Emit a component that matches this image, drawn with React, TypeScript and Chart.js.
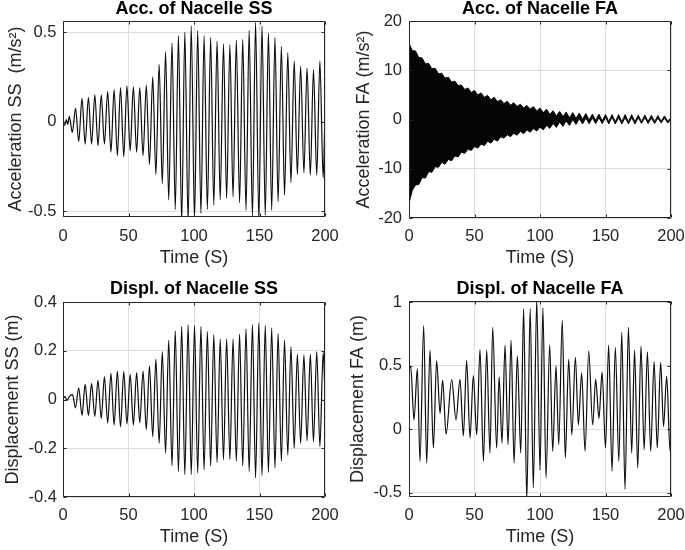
import React, { useEffect, useRef } from 'react';
import { Chart, registerables } from 'chart.js';

Chart.register(...registerables);

const FONT = '"Liberation Sans", Arial, Helvetica, sans-serif';
const TEXT = '#262626';
const GRID = '#dedede';

// ---------- shared ticks ----------
const timeTicks = [0, 50, 100, 150, 200];
const accSsTicks = [-0.5, 0, 0.5];
const accFaTicks = [-20, -10, 0, 10, 20];
const dispSsTicks = [-0.4, -0.2, 0, 0.2, 0.4];
const dispFaTicks = [-0.5, 0, 0.5, 1];

// ---------- Acc. of Nacelle SS (extrema) ----------
const accSsTime = [
  0, 1.3, 2.5, 3.6, 4.8, 7.1, 9.6,
  12.0, 14.5, 16.9, 19.4, 21.8, 24.3, 26.7, 29.2, 31.6, 34.1, 36.6, 39.0, 41.5, 43.9,
  46.4, 48.8, 51.3, 53.7, 56.2, 58.6, 61.1, 63.6, 66.0, 68.5, 70.9, 73.4, 75.8, 78.3,
  80.7, 83.2, 85.7, 88.1, 90.6, 93.0, 95.5, 97.9, 100.4, 102.8, 105.3, 107.7, 110.2, 112.7,
  115.1, 117.6, 120.0, 122.5, 124.9, 127.4, 129.8, 132.3, 134.8, 137.2, 139.7, 142.1,
  144.6, 147.0, 149.5, 151.9, 154.4, 156.8, 159.3, 161.8, 164.2, 166.7, 169.1, 171.6,
  174.0, 176.5, 178.9, 181.4, 183.9, 186.3, 188.8, 191.2, 193.7, 196.1, 198.6, 200,
];
const accSsValue = [
  0, -0.02, 0.012, -0.015, 0.03, -0.06, 0.075,
  -0.11, 0.13, -0.125, 0.135, -0.125, 0.15, -0.135, 0.15, -0.125, 0.17, -0.17, 0.18, -0.19, 0.19,
  -0.195, 0.2, -0.163, 0.195, -0.17, 0.19, -0.19, 0.205, -0.24, 0.25, -0.295, 0.32, -0.347, 0.39,
  -0.437, 0.44, -0.49, 0.48, -0.56, 0.5, -0.56, 0.535, -0.55, 0.51, -0.513, 0.48, -0.49, 0.47,
  -0.466, 0.45, -0.437, 0.435, -0.428, 0.43, -0.42, 0.455, -0.453, 0.46, -0.494, 0.51,
  -0.53, 0.555, -0.55, 0.535, -0.523, 0.495, -0.494, 0.47, -0.447, 0.42, -0.41, 0.385,
  -0.34, 0.34, -0.295, 0.31, -0.286, 0.3, -0.3, 0.29, -0.298, 0.34, -0.314, 0.06,
];

// ---------- Acc. of Nacelle FA (outer edges of the dense band) ----------
const accFaTime = [
  0, 2.5, 5, 7.5, 10, 12.5, 15, 17.5, 20, 22.5, 25, 27.5, 30, 32.5, 35, 37.5, 40, 42.5, 45, 47.5,
  50, 52.5, 55, 57.5, 60, 62.5, 65, 67.5, 70, 72.5, 75, 77.5, 80, 82.5, 85, 87.5, 90, 92.5, 95, 97.5,
  100, 102.5, 105, 107.5, 110, 112.5, 115, 117.5, 120, 122.5, 125, 127.5, 130, 132.5, 135, 137.5,
  140, 142.5, 145, 147.5, 150, 152.5, 155, 157.5, 160, 162.5, 165, 167.5, 170, 172.5, 175, 177.5,
  180, 182.5, 185, 187.5, 190, 192.5, 195, 197.5, 200,
];
const accFaUpper = [
  15.5, 14.0, 13.9, 12.6, 12.5, 11.3, 11.4, 10.3, 10.4, 9.3, 9.4, 8.4, 8.6, 7.6, 7.8, 6.9, 7.0, 6.1, 6.4, 5.5,
  5.9, 5.0, 5.4, 4.5, 4.9, 4.0, 4.5, 3.65, 4.0, 3.25, 3.7, 2.9, 3.4, 2.65, 3.1, 2.35, 2.85, 2.15, 2.6, 1.75,
  2.35, 1.4, 2.1, 1.05, 1.8, 0.7, 1.65, 0.6, 1.5, 0.35, 1.4, 0.25, 1.3, 0.05, 1.2, -0.1,
  1.1, -0.2, 1.1, -0.3, 1.0, -0.45, 1.0, -0.5, 1.0, -0.5, 1.0, -0.5, 1.0, -0.5, 0.9, -0.5,
  0.9, -0.45, 0.85, -0.45, 0.8, -0.4, 0.75, -0.4, 0.4,
];
const accFaLower = [
  -17.0, -14.4, -13.3, -13.2, -11.8, -11.9, -10.6, -10.7, -9.6, -9.7, -8.7, -9.1, -8.1, -8.4, -7.4, -7.6, -6.6, -6.9, -6.0, -6.3,
  -5.5, -5.8, -5.0, -5.3, -4.4, -4.8, -4.0, -4.4, -3.5, -3.8, -3.1, -3.5, -2.8, -3.2, -2.4, -2.9, -2.1, -2.6, -1.85, -2.35,
  -1.55, -2.1, -1.2, -1.8, -0.8, -1.6, -0.5, -1.4, -0.3, -1.2, 0.0, -1.0, 0.15, -0.9, 0.3, -0.85,
  0.35, -0.85, 0.4, -0.85, 0.45, -0.9, 0.5, -0.9, 0.4, -0.9, 0.4, -0.9, 0.4, -0.9, 0.4, -0.8,
  0.4, -0.8, 0.3, -0.8, 0.3, -0.7, 0.3, -0.7, 0.0,
];

// ---------- Displ. of Nacelle SS ----------
const dispSsTime = [
  0, 1.5, 3.0, 4.8, 7.2, 9.5,
  12.0, 14.5, 16.9, 19.4, 21.8, 24.3, 26.7, 29.2, 31.6, 34.1, 36.6, 39.0, 41.5, 43.9,
  46.4, 48.8, 51.3, 53.7, 56.2, 58.6, 61.1, 63.6, 66.0, 68.5, 70.9, 73.4, 75.8, 78.3,
  80.7, 83.2, 85.7, 88.1, 90.6, 93.0, 95.5, 97.9, 100.4, 102.8, 105.3, 107.7, 110.2, 112.7,
  115.1, 117.6, 120.0, 122.5, 124.9, 127.4, 129.8, 132.3, 134.8, 137.2, 139.7, 142.1,
  144.6, 147.0, 149.5, 151.9, 154.4, 156.8, 159.3, 161.8, 164.2, 166.7, 169.1, 171.6,
  174.0, 176.5, 178.9, 181.4, 183.9, 186.3, 188.8, 191.2, 193.7, 196.1, 198.6, 200,
];
const dispSsValue = [
  0.005, 0.012, -0.004, 0.012, 0.02, -0.034,
  0.048, -0.065, 0.062, -0.065, 0.065, -0.069, 0.079, -0.078, 0.093, -0.096, 0.107, -0.105, 0.117, -0.112,
  0.114, -0.1, 0.103, -0.105, 0.11, -0.096, 0.117, -0.123, 0.138, -0.153, 0.166, -0.18, 0.197, -0.22,
  0.244, -0.272, 0.282, -0.295, 0.299, -0.308, 0.307, -0.308, 0.304, -0.301, 0.299, -0.288, 0.279, -0.272,
  0.266, -0.258, 0.248, -0.247, 0.248, -0.245, 0.248, -0.253, 0.268, -0.272, 0.289, -0.295,
  0.307, -0.321, 0.314, -0.312, 0.303, -0.299, 0.293, -0.281, 0.27, -0.253, 0.244, -0.227,
  0.217, -0.2, 0.186, -0.18, 0.183, -0.169, 0.186, -0.173, 0.197, -0.193, 0.193, 0.02,
];

// ---------- Displ. of Nacelle FA ----------
const dispFaTime = [
  0, 1.3, 3.8, 6.4, 8.4, 11.2, 13.5, 16.0, 18.6, 21.1, 23.7, 25.7, 28.3, 32.6, 35.9, 38.9, 41.5,
  44.0, 46.6, 49.1, 51.7, 54.2, 56.8, 59.3, 61.8, 63.9, 66.9, 68.8, 71.0, 73.3, 75.6, 77.9, 80.2,
  82.7, 85.3, 87.5, 89.9, 92.5, 94.9, 97.5, 100.0, 102.2, 104.6, 107.4, 109.7, 112.2, 114.3, 117.0,
  119.3, 121.9, 124.3, 127.0, 129.3, 131.8, 134.4, 137.2, 140.2, 142.5, 145.0, 147.4, 150.0, 152.4,
  155.0, 157.5, 160.2, 162.4, 164.9, 167.5, 170.0, 172.2, 174.6, 177.1, 179.5, 182.0, 184.5, 187.1,
  189.5, 192.1, 194.3, 196.7, 199.3, 200,
];
const dispFaValue = [
  0.47, 0.495, 0.073, 0.477, -0.253, 0.815, -0.266, 0.623, -0.148, 0.541, 0.125, 0.387, -0.039, 0.39, 0.073, 0.392, -0.052,
  0.541, -0.07, 0.423, -0.044, 0.628, -0.253, 0.623, -0.188, 0.803, -0.148, 0.413, -0.109, 0.662, -0.122, 0.7, -0.266,
  0.577, -0.188, 0.951, -0.56, 0.951, -0.461, 1.02, -0.323, 0.956, -0.383, 0.662, -0.174, 0.5, -0.122, 0.859,
  -0.227, 0.551, -0.044, 0.567, 0.034, 0.444, -0.174, 0.615, 0.034, 0.392, 0.086, 0.449, -0.148, 0.662,
  -0.331, 0.644, -0.253, 0.764, -0.474, 0.803, -0.188, 0.623, -0.305, 0.654, -0.161, 0.61, -0.174, 0.533,
  -0.148, 0.526, 0.021, 0.418, -0.174, -0.12,
];

const zip = (xs: number[], ys: number[]) => xs.map((x, i) => ({ x, y: ys[i] }));

const boxPlugin = {
  id: 'matlabBox',
  afterDatasetsDraw(chart: any) {
    const { ctx, chartArea: a, scales } = chart;
    const L = Math.round(a.left) + 0.5;
    const R = Math.round(a.right) - 0.5;
    const T = Math.round(a.top) + 0.5;
    const B = Math.round(a.bottom) - 0.5;
    ctx.save();
    ctx.strokeStyle = TEXT;
    ctx.lineWidth = 1;
    ctx.beginPath();
    ctx.rect(L, T, R - L, B - T);
    const len = 3;
    scales.x.ticks.forEach((t: any) => {
      const px = Math.round(scales.x.getPixelForValue(t.value)) + 0.5;
      ctx.moveTo(px, B); ctx.lineTo(px, B - len);
      ctx.moveTo(px, T); ctx.lineTo(px, T + len);
    });
    scales.y.ticks.forEach((t: any) => {
      const py = Math.round(scales.y.getPixelForValue(t.value)) + 0.5;
      ctx.moveTo(L, py); ctx.lineTo(L + len, py);
      ctx.moveTo(R, py); ctx.lineTo(R - len, py);
    });
    ctx.stroke();
    ctx.restore();
  },
};

type Spec = {
  left: number; top: number; w: number; h: number;
  area: { l: number; t: number; r: number; b: number };
  title: string; titleY: number;
  yTitle: string; yTitleX: number; yTickRight: number;
  xTickY: number; xTitleY: number;
  yMin: number; yMax: number; yTicks: number[];
  datasets: any[];
};

function buildConfig(s: Spec): any {
  const tickFont = { family: FONT, size: 16.5, lineHeight: 1.2 };
  const labelFont = { family: FONT, size: 18, lineHeight: 1 };
  const titlePadTop = s.titleY - 9;
  return {
    type: 'line',
    data: { datasets: s.datasets },
    options: {
      responsive: false,
      animation: false,
      devicePixelRatio: 1,
      events: [],
      layout: { padding: { left: 0, top: 0, right: s.w - s.area.r, bottom: 0 } },
      plugins: {
        legend: { display: false },
        tooltip: { enabled: false },
        title: {
          display: true,
          text: s.title,
          fullSize: false,
          color: '#000',
          font: { family: FONT, size: 18, weight: 'bold', lineHeight: 1 },
          padding: { top: titlePadTop, bottom: s.area.t - 18 - titlePadTop },
        },
      },
      scales: {
        x: {
          type: 'linear',
          min: 0,
          max: 200,
          afterBuildTicks: (sc: any) => { sc.ticks = timeTicks.map((v) => ({ value: v })); },
          afterFit: (sc: any) => { sc.height = s.h - s.area.b; sc.paddingLeft = 0; sc.paddingRight = 0; },
          ticks: {
            autoSkip: false, maxRotation: 0, minRotation: 0,
            padding: s.xTickY - s.area.b - 9.9,
            font: tickFont, color: TEXT,
            callback: (v: any) => String(v),
          },
          grid: { color: GRID, drawTicks: false, lineWidth: 1 },
          border: { display: false },
          title: {
            display: true, text: 'Time (S)', color: TEXT, font: labelFont,
            padding: { top: 0, bottom: s.h - s.xTitleY - 9 },
          },
        },
        y: {
          type: 'linear',
          min: s.yMin,
          max: s.yMax,
          afterBuildTicks: (sc: any) => { sc.ticks = s.yTicks.map((v) => ({ value: v })); },
          afterFit: (sc: any) => { sc.width = s.area.l; sc.paddingTop = 0; sc.paddingBottom = 0; },
          ticks: {
            padding: s.area.l - s.yTickRight,
            font: tickFont, color: TEXT,
            callback: (v: any) => String(v),
          },
          grid: { color: GRID, drawTicks: false, lineWidth: 1 },
          border: { display: false },
          title: {
            display: true, text: s.yTitle, color: TEXT, font: labelFont,
            padding: { top: s.yTitleX - 9, bottom: 0 },
          },
        },
      },
    },
    plugins: [boxPlugin],
  };
}

const lineStyle = {
  borderColor: '#0d0d0d',
  borderWidth: 1.2,
  pointRadius: 0,
  fill: false,
  clip: 0,
};

const specs: Spec[] = [
  {
    left: 0, top: 0, w: 342, h: 275,
    area: { l: 63, t: 21, r: 325, b: 217 },
    title: 'Acc. of Nacelle SS', titleY: 9,
    yTitle: 'Acceleration SS  (m/s²)', yTitleX: 16, yTickRight: 56.5,
    xTickY: 236, xTitleY: 258,
    yMin: -0.533, yMax: 0.563, yTicks: accSsTicks,
    datasets: [{ ...lineStyle, data: zip(accSsTime, accSsValue), cubicInterpolationMode: 'monotone' }],
  },
  {
    left: 342, top: 0, w: 343, h: 275,
    area: { l: 67, t: 21, r: 329, b: 218 },
    title: 'Acc. of Nacelle FA', titleY: 9,
    yTitle: 'Acceleration FA (m/s²)', yTitleX: 22, yTickRight: 60,
    xTickY: 236, xTitleY: 258,
    yMin: -20, yMax: 20, yTicks: accFaTicks,
    datasets: [
      { ...lineStyle, borderWidth: 1, data: zip(accFaTime, accFaUpper), tension: 0, fill: '+1', backgroundColor: '#050505' },
      { ...lineStyle, borderWidth: 1, data: zip(accFaTime, accFaLower), tension: 0 },
    ],
  },
  {
    left: 0, top: 275, w: 342, h: 275,
    area: { l: 63, t: 27, r: 325, b: 222 },
    title: 'Displ. of Nacelle SS', titleY: 14,
    yTitle: 'Displacement SS (m)', yTitleX: 13, yTickRight: 57,
    xTickY: 240, xTitleY: 262,
    yMin: -0.4, yMax: 0.4, yTicks: dispSsTicks,
    datasets: [{ ...lineStyle, data: zip(dispSsTime, dispSsValue), cubicInterpolationMode: 'monotone' }],
  },
  {
    left: 342, top: 275, w: 343, h: 275,
    area: { l: 67, t: 26, r: 329, b: 222 },
    title: 'Displ. of Nacelle FA', titleY: 14,
    yTitle: 'Displacement FA (m)', yTitleX: 16, yTickRight: 60,
    xTickY: 240, xTitleY: 262,
    yMin: -0.534, yMax: 1.01, yTicks: dispFaTicks,
    datasets: [{ ...lineStyle, data: zip(dispFaTime, dispFaValue), cubicInterpolationMode: 'monotone' }],
  },
];

function Panel({ spec }: { spec: Spec }) {
  const ref = useRef<HTMLCanvasElement | null>(null);
  useEffect(() => {
    if (!ref.current) return;
    const chart = new Chart(ref.current, buildConfig(spec));
    return () => chart.destroy();
  }, [spec]);
  return (
    <canvas
      ref={ref}
      width={spec.w}
      height={spec.h}
      style={{ position: 'absolute', left: spec.left, top: spec.top, width: spec.w, height: spec.h }}
    />
  );
}

export default function App() {
  return (
    <div style={{ position: 'absolute', left: 0, top: 0, width: 685, height: 550, background: '#fff', overflow: 'hidden' }}>
      {specs.map((s, i) => (
        <Panel key={i} spec={s} />
      ))}
    </div>
  );
}
